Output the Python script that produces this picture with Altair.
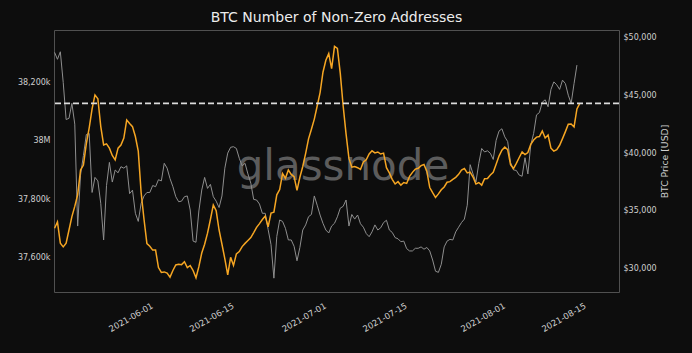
import altair as alt
import pandas as pd

# ---------------- data ----------------
series_start = "2021-05-15 12:00"   # first sample, one sample every 12 hours

addresses_k = [
    37700, 37722, 37649, 37636, 37649, 37694, 37740, 37775, 37815, 37900,
    37917, 37990, 38045, 38110, 38158, 38145, 38050, 37986, 37990, 37975,
    37950, 37935, 37975, 37986, 38010, 38072, 38060, 38049, 38015, 37965,
    37822, 37730, 37647, 37638, 37625, 37625, 37565, 37548, 37550, 37546,
    37532, 37555, 37574, 37576, 37575, 37585, 37565, 37572, 37555, 37530,
    37568, 37615, 37645, 37683, 37730, 37780, 37760, 37694, 37645, 37595,
    37540, 37600, 37572, 37612, 37620, 37637, 37648, 37658, 37668, 37685,
    37703, 37716, 37730, 37742, 37705, 37752, 37755, 37815, 37833, 37888,
    37872, 37900, 37885, 37877, 37830, 37875, 37912, 37957, 38007, 38040,
    38075, 38120, 38166, 38236, 38277, 38300, 38248, 38325, 38318, 38232,
    38120, 38024, 37940, 37910, 37912, 37908, 37902, 37928, 37935, 37955,
    37966, 37959, 37962, 37955, 37958, 37908, 37890, 37868, 37852, 37860,
    37848, 37857, 37854, 37878, 37892, 37903, 37906, 37915, 37919, 37895,
    37840, 37822, 37806, 37818, 37832, 37842, 37858, 37860, 37868, 37875,
    37885, 37900, 37905, 37890, 37893, 37876, 37852, 37857, 37848, 37870,
    37871, 37883, 37892, 37920, 37948, 37968, 37979, 37970, 37918, 37905,
    37923, 37943, 37962, 37953, 37960, 37988, 38003, 38013, 38015, 38034,
    38010, 38020, 37975, 37965, 37970, 37985, 38008, 38032, 38057, 38058,
    38048, 38110, 38129,
]

price_usd = [
    48700, 48100, 48750, 46100, 42900, 43000, 44300, 42500, 33700, 38100,
    39800, 41600, 41700, 36600, 37900, 37600, 35665, 32500, 37200, 39200,
    37500, 38541, 38300, 38825, 38700, 38900, 36500, 36800, 34800, 34100,
    35665, 36300, 36600, 36600, 37200, 37098, 37700, 37600, 39119, 38700,
    37800, 37100, 36235, 35800, 35850, 36235, 36300, 35086, 32400, 32300,
    35000, 36813, 37900, 36950, 37300, 36235, 35850, 35300, 36300, 38700,
    40000, 40500, 40553, 40400, 39550, 38900, 39119, 38200, 37400, 36000,
    35950, 35600, 34800, 34801, 33400, 32100, 29200, 32800, 34223, 34100,
    33500, 32500, 32500, 31950, 30700, 31850, 33359, 33800, 34508, 34700,
    36300, 35500, 34650, 33938, 33359, 33100, 33700, 33938, 34500, 35250,
    35400, 35950, 33700, 34700, 34300, 34654, 33900, 33600, 33050, 32781,
    33200, 33800, 33359, 33550, 34000, 34200, 33359, 33150, 32700, 32600,
    32349, 32400, 31750, 31550, 31550, 31780, 31780, 31900, 31700, 31850,
    31550, 30768, 29800, 29700, 30400, 31900, 32400, 32550, 32500, 33200,
    33600, 34000, 34300, 35500, 39000, 38200, 37500, 39119, 40400, 40100,
    40200, 39983, 39450, 41100, 41900, 42100, 41400, 41000, 39200, 38550,
    38500, 38100, 38000, 39600, 38200, 40700, 41700, 43300, 43500, 44400,
    44600, 44000, 45500, 46150, 45900, 45500, 46300, 46000, 45000, 44300,
    46000, 47600,
]

date_ticks = ["2021-06-01", "2021-06-15", "2021-07-01", "2021-07-15", "2021-08-01", "2021-08-15"]
addr_ticks = [37600, 37800, 38000, 38200]
price_ticks = [30000, 35000, 40000, 45000, 50000]

# ---------------- tables ----------------
def stamps(n):
    return pd.date_range(series_start, periods=n, freq="12h").strftime("%Y-%m-%dT%H:%M:%S")

addr_df = pd.DataFrame({"date": stamps(len(addresses_k)), "addr": addresses_k})
price_df = pd.DataFrame({"date": stamps(len(price_usd)), "price": price_usd})
last_df = pd.DataFrame({"date": [addr_df["date"].iloc[-1]], "v": [addresses_k[-1]]})
mark_df = pd.DataFrame({"t": ["glassnode"]})

def dt(s, h=0, m=0):
    y, mo, d = (int(p) for p in s.split("-"))
    return alt.DateTime(year=y, month=mo, date=d, hours=h, minutes=m)

ORANGE = "#f6a623"
GRAY = "#8e8e8e"
TXT = "#cfcfcf"
FONT = "DejaVu Sans"
W, H = 565, 262

x_scale = alt.Scale(domain=[dt("2021-05-15", 9, 38), dt("2021-08-21", 6, 55)])
addr_scale = alt.Scale(domain=[37481, 38381], nice=False, zero=False)
price_scale = alt.Scale(domain=[28005, 50630], nice=False, zero=False)

x_axis = alt.Axis(
    values=[dt(s) for s in date_ticks], format="%Y-%m-%d", title=None,
    labelAngle=330, labelAlign="right", labelBaseline="top", labelPadding=9,
    labelColor=TXT, labelFont=FONT, labelFontSize=8.5, labelOverlap=False, labelFlush=False,
    ticks=False, domain=False, grid=False,
)
left_axis = alt.Axis(
    orient="left", values=addr_ticks, title=None,
    labelExpr="datum.value == 38000 ? '38M' : format(datum.value, ',') + 'k'",
    labelColor=TXT, labelFont=FONT, labelFontSize=8, labelPadding=4,
    ticks=False, domain=False, grid=False,
)
right_axis = alt.Axis(
    orient="right", values=price_ticks, format="$,.0f", title="BTC Price [USD]",
    titleAngle=270, titleBaseline="top", titleColor=TXT, titleFont=FONT, titleFontSize=9.3,
    titleFontWeight="normal", titlePadding=4,
    labelColor=TXT, labelFont=FONT, labelFontSize=8, labelPadding=4,
    ticks=False, domain=False, grid=False,
)

watermark = alt.Chart(mark_df).mark_text(
    font=FONT, fontSize=42, color="#5c5c5c", align="center", baseline="alphabetic"
).encode(text="t:N", x=alt.value(289), y=alt.value(150))

price_line = alt.Chart(price_df).mark_line(color=GRAY, strokeWidth=1).encode(
    x=alt.X("date:T", scale=x_scale, axis=x_axis),
    y=alt.Y("price:Q", scale=price_scale, axis=right_axis),
)

addr_line = alt.Chart(addr_df).mark_line(color=ORANGE, strokeWidth=1.5).encode(
    x=alt.X("date:T", scale=x_scale, axis=x_axis),
    y=alt.Y("addr:Q", scale=addr_scale, axis=left_axis),
)

last_rule = alt.Chart(last_df).mark_rule(color="#dcdcdc", strokeDash=[6, 3], strokeWidth=1.6).encode(
    y=alt.Y("v:Q", scale=addr_scale, axis=left_axis),
)

chart = alt.layer(
    watermark, price_line, alt.layer(addr_line, last_rule)
).resolve_scale(y="independent").properties(
    width=W, height=H,
    title=alt.TitleParams("BTC Number of Non-Zero Addresses", fontSize=14, font=FONT,
                          fontWeight="normal", color="#ececec", anchor="middle", offset=5),
    autosize=alt.AutoSizeParams(type="none"),
    padding={"left": 54, "top": 30, "right": 73, "bottom": 61},
).configure(background="#0d0d0d").configure_view(stroke="#505050", strokeWidth=1)

chart.save("out.html", embed_options={"renderer": "svg", "actions": False})
